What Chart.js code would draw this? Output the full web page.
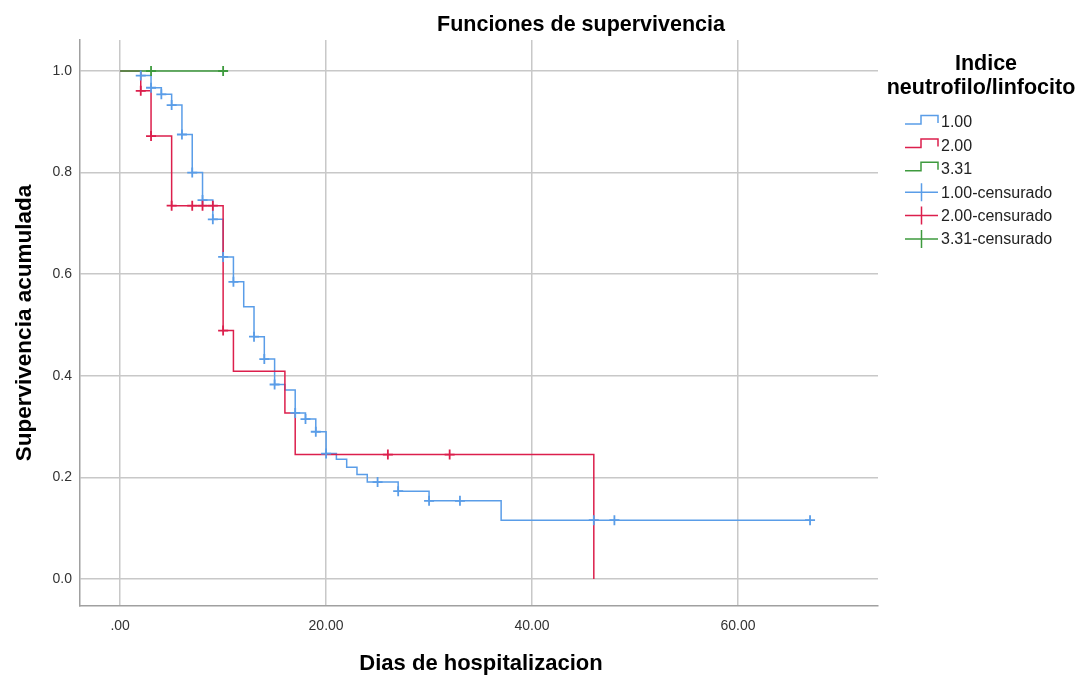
<!DOCTYPE html>
<html>
<head>
<meta charset="utf-8">
<script src="https://cdn.jsdelivr.net/npm/chart.js@4.4.1/dist/chart.umd.min.js"></script>
<style>
  html, body { margin: 0; padding: 0; background: #fff; }
</style>
</head>
<body>
<canvas id="km" width="1086" height="675"></canvas>
<script>
// groups of Indice neutrofilo/linfocito
const groupNames = ['1.00', '2.00', '3.31'];
const groupColors = ['#5a9de8', '#dc1f4c', '#3e9a3e'];

// Kaplan-Meier steps: time (dias) and survival after the step
const timeG1 = [0, 2, 3, 4, 5, 6, 7, 8, 9, 10, 11, 12, 13, 14, 15, 16, 17, 18, 19, 20, 21, 22, 23, 24, 27, 30, 37, 67];
const survG1 = [1.0, 0.991, 0.967, 0.954, 0.933, 0.875, 0.800, 0.746, 0.708, 0.634, 0.585, 0.536, 0.477, 0.433, 0.383, 0.372, 0.327, 0.315, 0.290, 0.247, 0.236, 0.220, 0.206, 0.191, 0.173, 0.154, 0.116, 0.116];
const timeG2 = [0, 2, 3, 5, 10, 11, 16, 17, 46];
const survG2 = [1.0, 0.961, 0.872, 0.735, 0.489, 0.409, 0.327, 0.245, 0.0];
const timeG3 = [0, 10];
const survG3 = [1.0, 1.0];

// censored cases
const censTimeG1 = [2, 3, 4, 5, 6, 7, 8, 9, 10, 11, 13, 14, 15, 17, 18, 19, 20, 25, 27, 30, 33, 46, 48, 67];
const censSurvG1 = [0.991, 0.967, 0.954, 0.933, 0.875, 0.800, 0.746, 0.708, 0.634, 0.585, 0.477, 0.433, 0.383, 0.327, 0.315, 0.290, 0.247, 0.191, 0.173, 0.154, 0.154, 0.116, 0.116, 0.116];
const censTimeG2 = [2, 3, 5, 7, 8, 9, 10, 26, 32];
const censSurvG2 = [0.961, 0.872, 0.735, 0.735, 0.735, 0.735, 0.489, 0.245, 0.245];
const censTimeG3 = [3, 10];
const censSurvG3 = [1.0, 1.0];

const xTicks = [0, 20, 40, 60];
const yTicks = [0, 0.2, 0.4, 0.6, 0.8, 1.0];

const FONT = "'Liberation Sans', Arial, sans-serif";

function toPoints(xs, ys) {
    return xs.map((x, i) => ({ x: x, y: ys[i] }));
}

function stepSet(i, xs, ys, order) {
    return {
        label: groupNames[i],
        data: toPoints(xs, ys),
        showLine: true,
        stepped: 'before',
        borderColor: groupColors[i],
        borderWidth: 1.5,
        pointRadius: 0,
        order: order
    };
}

function censSet(i, xs, ys, order) {
    return {
        label: groupNames[i] + '-censurado',
        data: toPoints(xs, ys),
        showLine: false,
        pointStyle: 'cross',
        pointRadius: 5,
        pointBorderWidth: 1.8,
        borderColor: groupColors[i],
        backgroundColor: groupColors[i],
        order: order
    };
}

// titles and the legend, drawn after the chart
const textPlugin = {
    id: 'kmText',
    afterDraw(chart) {
        const ctx = chart.ctx;
        ctx.save();
        ctx.fillStyle = '#000';
        ctx.textAlign = 'center';
        ctx.textBaseline = 'middle';

        ctx.font = 'bold 21.5px ' + FONT;
        ctx.fillText('Funciones de supervivencia', 581, 25);

        ctx.font = 'bold 22px ' + FONT;
        ctx.fillText('Dias de hospitalizacion', 481, 664);

        ctx.save();
        ctx.translate(25, 323);
        ctx.rotate(-Math.PI / 2);
        ctx.font = 'bold 22.5px ' + FONT;
        ctx.fillText('Supervivencia acumulada', 0, 0);
        ctx.restore();

        // legend
        ctx.font = 'bold 21.5px ' + FONT;
        ctx.fillText('Indice', 986, 64);
        ctx.fillText('neutrofilo/linfocito', 981, 88);

        const items = [];
        groupNames.forEach((g, i) => items.push({ text: g, color: groupColors[i], kind: 'step' }));
        groupNames.forEach((g, i) => items.push({ text: g + '-censurado', color: groupColors[i], kind: 'cross' }));

        ctx.textAlign = 'left';
        ctx.font = '16px ' + FONT;
        items.forEach((it, k) => {
            const cy = 122 + k * 23.4;
            ctx.strokeStyle = it.color;
            ctx.lineWidth = 1.5;
            ctx.beginPath();
            if (it.kind === 'step') {
                ctx.moveTo(905, cy + 2);
                ctx.lineTo(921, cy + 2);
                ctx.lineTo(921, cy - 6.5);
                ctx.lineTo(938, cy - 6.5);
                ctx.lineTo(938, cy + 1);
            } else {
                ctx.moveTo(905, cy);
                ctx.lineTo(938, cy);
                ctx.moveTo(921.5, cy - 9);
                ctx.lineTo(921.5, cy + 9);
            }
            ctx.stroke();
            ctx.fillStyle = '#222';
            ctx.fillText(it.text, 941, cy + 1);
        });
        ctx.restore();
    }
};

new Chart(document.getElementById('km'), {
    type: 'scatter',
    data: {
        datasets: [
            stepSet(0, timeG1, survG1, 6),
            stepSet(1, timeG2, survG2, 5),
            stepSet(2, timeG3, survG3, 4),
            censSet(0, censTimeG1, censSurvG1, 3),
            censSet(1, censTimeG2, censSurvG2, 2),
            censSet(2, censTimeG3, censSurvG3, 1)
        ]
    },
    options: {
        responsive: false,
        animation: false,
        devicePixelRatio: 1,
        layout: { padding: { top: 40, right: 208, left: 0, bottom: 0 } },
        plugins: {
            legend: { display: false },
            title: { display: false },
            tooltip: { enabled: false }
        },
        scales: {
            x: {
                type: 'linear',
                min: -3.9,
                max: 73.6,
                afterBuildTicks: s => { s.ticks = xTicks.map(v => ({ value: v })); },
                afterFit: s => { s.height = 69; },
                grid: { color: '#c8c8c8', lineWidth: 1.5, drawTicks: false },
                border: { color: '#a0a0a0', width: 1.5 },
                ticks: {
                    padding: 12,
                    color: '#333',
                    font: { family: FONT, size: 14 },
                    callback: v => v === 0 ? '.00' : v.toFixed(2)
                }
            },
            y: {
                type: 'linear',
                min: -0.053,
                max: 1.061,
                afterBuildTicks: s => { s.ticks = yTicks.map(v => ({ value: v })); },
                afterFit: s => { s.width = 80; },
                grid: { color: '#c8c8c8', lineWidth: 1.5, drawTicks: false },
                border: { color: '#a0a0a0', width: 1.5 },
                ticks: {
                    padding: 8,
                    color: '#333',
                    font: { family: FONT, size: 14 },
                    callback: v => v.toFixed(1)
                }
            }
        }
    },
    plugins: [textPlugin]
});
</script>
</body>
</html>
